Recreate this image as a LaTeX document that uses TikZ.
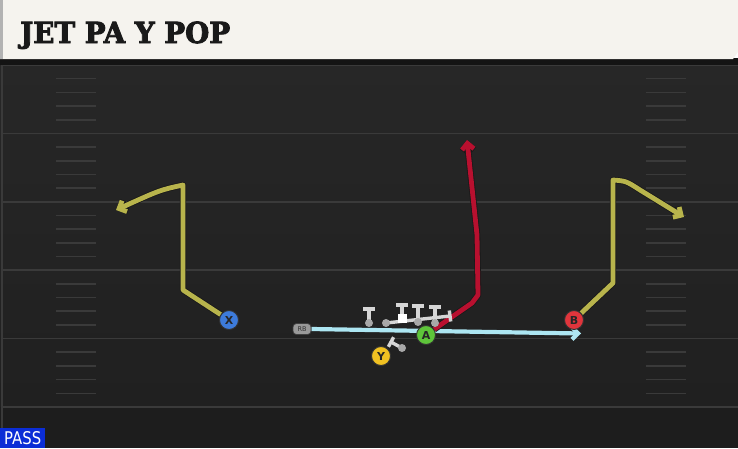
\documentclass[tikz,border=0pt]{standalone}
\usepackage{fontspec}
\usetikzlibrary{arrows.meta}
\newfontfamily\titlefont{DejaVu Serif}[UprightFont=* Bold, FakeBold=3]
\newfontfamily\lblfont{DejaVu Sans}
\definecolor{fieldtop}{HTML}{272727}
\definecolor{fieldbot}{HTML}{202020}
\definecolor{fieldend}{HTML}{1D1D1D}
\definecolor{fline}{HTML}{3A3A3A}
\definecolor{titlebg}{HTML}{F5F3EE}
\definecolor{xblue}{HTML}{3D7BDB}
\definecolor{bred}{HTML}{E0353C}
\definecolor{agreen}{HTML}{5EC43A}
\definecolor{yyellow}{HTML}{F0C122}
\definecolor{olive}{HTML}{B8B44C}
\definecolor{rroute}{HTML}{B8102F}
\definecolor{jetblue}{HTML}{ADE6F2}
\definecolor{olgrey}{HTML}{D6D6D6}
\definecolor{olcirc}{HTML}{A8A8A8}
\definecolor{passblue}{HTML}{0B2DD6}
\pgfdeclarelayer{field}
\pgfdeclarelayer{routes}
\pgfsetlayers{field,routes,main}
\begin{document}
\begin{tikzpicture}[x=1pt,y=-1pt,
  fieldline/.style={draw=fline,line width=1.6pt},
  hash/.style={draw=fline,line width=1.6pt},
  arr/.style={-{Straight Barb[length=6pt,width=12pt]}},
  route/.style={draw=#1,line width=4.8pt,line join=round,arr,
    preaction={draw=black!90,line width=6.4pt,line join=round}},
  jet/.style={draw=jetblue,line width=4.2pt,arr},
  player/.style={circle,draw=black!80,line width=0.9pt,minimum size=19pt,inner sep=0pt,
    font=\lblfont\bfseries\fontsize{11}{11}\selectfont,text=black!85},
  olman/.style={circle,fill=olcirc,minimum size=8pt,inner sep=0pt},
  center/.style={rectangle,fill=white,minimum size=9pt,inner sep=0pt},
  blk/.style={draw=olgrey,line width=3.4pt},
  rb/.style={rectangle,rounded corners=3.5pt,fill=black!40,draw=black!75,line width=0.7pt,
    minimum width=18pt,minimum height=11pt,inner sep=0pt,
    font=\lblfont\fontsize{6.5}{6.5}\selectfont,text=black!80},
  passbox/.style={fill=passblue,inner sep=0pt,minimum width=45pt,minimum height=20pt,text=white}
]
\useasboundingbox (0,0) rectangle (738,448);

\begin{pgfonlayer}{field}
  \shade[top color=fieldtop,bottom color=fieldbot] (0,60) rectangle (738,407);
  \fill[fieldend] (0,407) rectangle (738,448);
  \foreach \y in {65,133.4,201.8,270.2,338.6,407}
    \draw[fieldline] (3,\y) -- (738,\y);
  \foreach \k in {0,...,4}{
    \foreach \j in {1,...,4}{
      \pgfmathsetmacro{\hy}{65+68.4*\k+13.68*\j}
      \draw[hash] (56,\hy) -- (96,\hy);
      \draw[hash] (646,\hy) -- (686,\hy);
    }
  }
  \draw[fieldline] (2.2,64) -- (2.2,448);
  % title bar
  \fill[black!92] (0,58) rectangle (738,64.5);
  \fill[titlebg] (0,0) -- (738,0) -- (738,52) -- (733,59) -- (0,59) -- cycle;
  \fill[black!30] (0,0) rectangle (3,59);
\end{pgfonlayer}

\node[anchor=base west,inner sep=0pt,text=black!90] (title) at (20,43)
  {\resizebox{210pt}{\height}{\titlefont\fontsize{29}{30}\selectfont JET PA Y POP}};
\node[passbox,anchor=south west] (pass) at (0,448)
  {\resizebox{37pt}{13pt}{\lblfont PASS}};

% skill players
\node[player,fill=xblue] (X) at (229,320) {X};
\node[player,fill=bred] (B) at (574,320) {B};
\node[player,fill=agreen] (A) at (426,335) {A};
\node[player,fill=yyellow] (Y) at (381,356) {Y};
\node[rb] (RB) at (302,329) {RB};
\coordinate (jetend) at (581,333.5);

% route waypoints
\coordinate (x1) at (183,290);
\coordinate (x2) at (183,185);
\coordinate (xend) at (116,210);
\coordinate (b1) at (613,283);
\coordinate (b2) at (613,180);
\coordinate (bend) at (684,217);
\coordinate (a1) at (472,303);
\coordinate (a2) at (478,295);
\coordinate (a3) at (477,235);
\coordinate (aend) at (467,140);

% offensive line
\node[olman] (L1) at (369,323) {};
\node[olman] (L2) at (386,323) {};
\node[center] (C) at (402,318) {};
\node[olman] (G) at (418,322) {};
\node[olman] (T) at (435,323) {};
\node[olman] (Yb) at (402,348) {};
\coordinate (l1e) at (369,309);
\coordinate (l2e) at (450,316);
\coordinate (ce) at (402,305);
\coordinate (ge) at (418,306);
\coordinate (te) at (435,307);
\coordinate (ye) at (391,342);

\begin{pgfonlayer}{routes}
  \draw[route=olive] (X) -- (x1) -- (x2) .. controls (160,190) .. (xend);
  \draw[route=olive] (B) -- (b1) -- (b2) .. controls (626,181) .. (640,190) -- (bend);
  \draw[jet] (RB.east) -- (jetend);
  \draw[route=rroute] (A) -- (a1) -- (a2) -- (a3) -- (aend);
  % blocks
  \draw[blk] (L1.center) -- (l1e);
  \draw[blk] (363,309) -- (375,309);
  \draw[blk] (L2.center) -- (l2e);
  \draw[blk] (449.3,310.5) -- (450.7,321.5);
  \draw[blk] (C.center) -- (ce);
  \draw[blk] (396,305) -- (408,305);
  \draw[blk] (G.center) -- (ge);
  \draw[blk] (412,306) -- (424,306);
  \draw[blk] (T.center) -- (te);
  \draw[blk] (429,307) -- (441,307);
  \draw[blk] (Yb.center) -- (ye);
  \draw[blk] (393.6,337.2) -- (388.4,346.8);
\end{pgfonlayer}
\end{tikzpicture}
\end{document}
